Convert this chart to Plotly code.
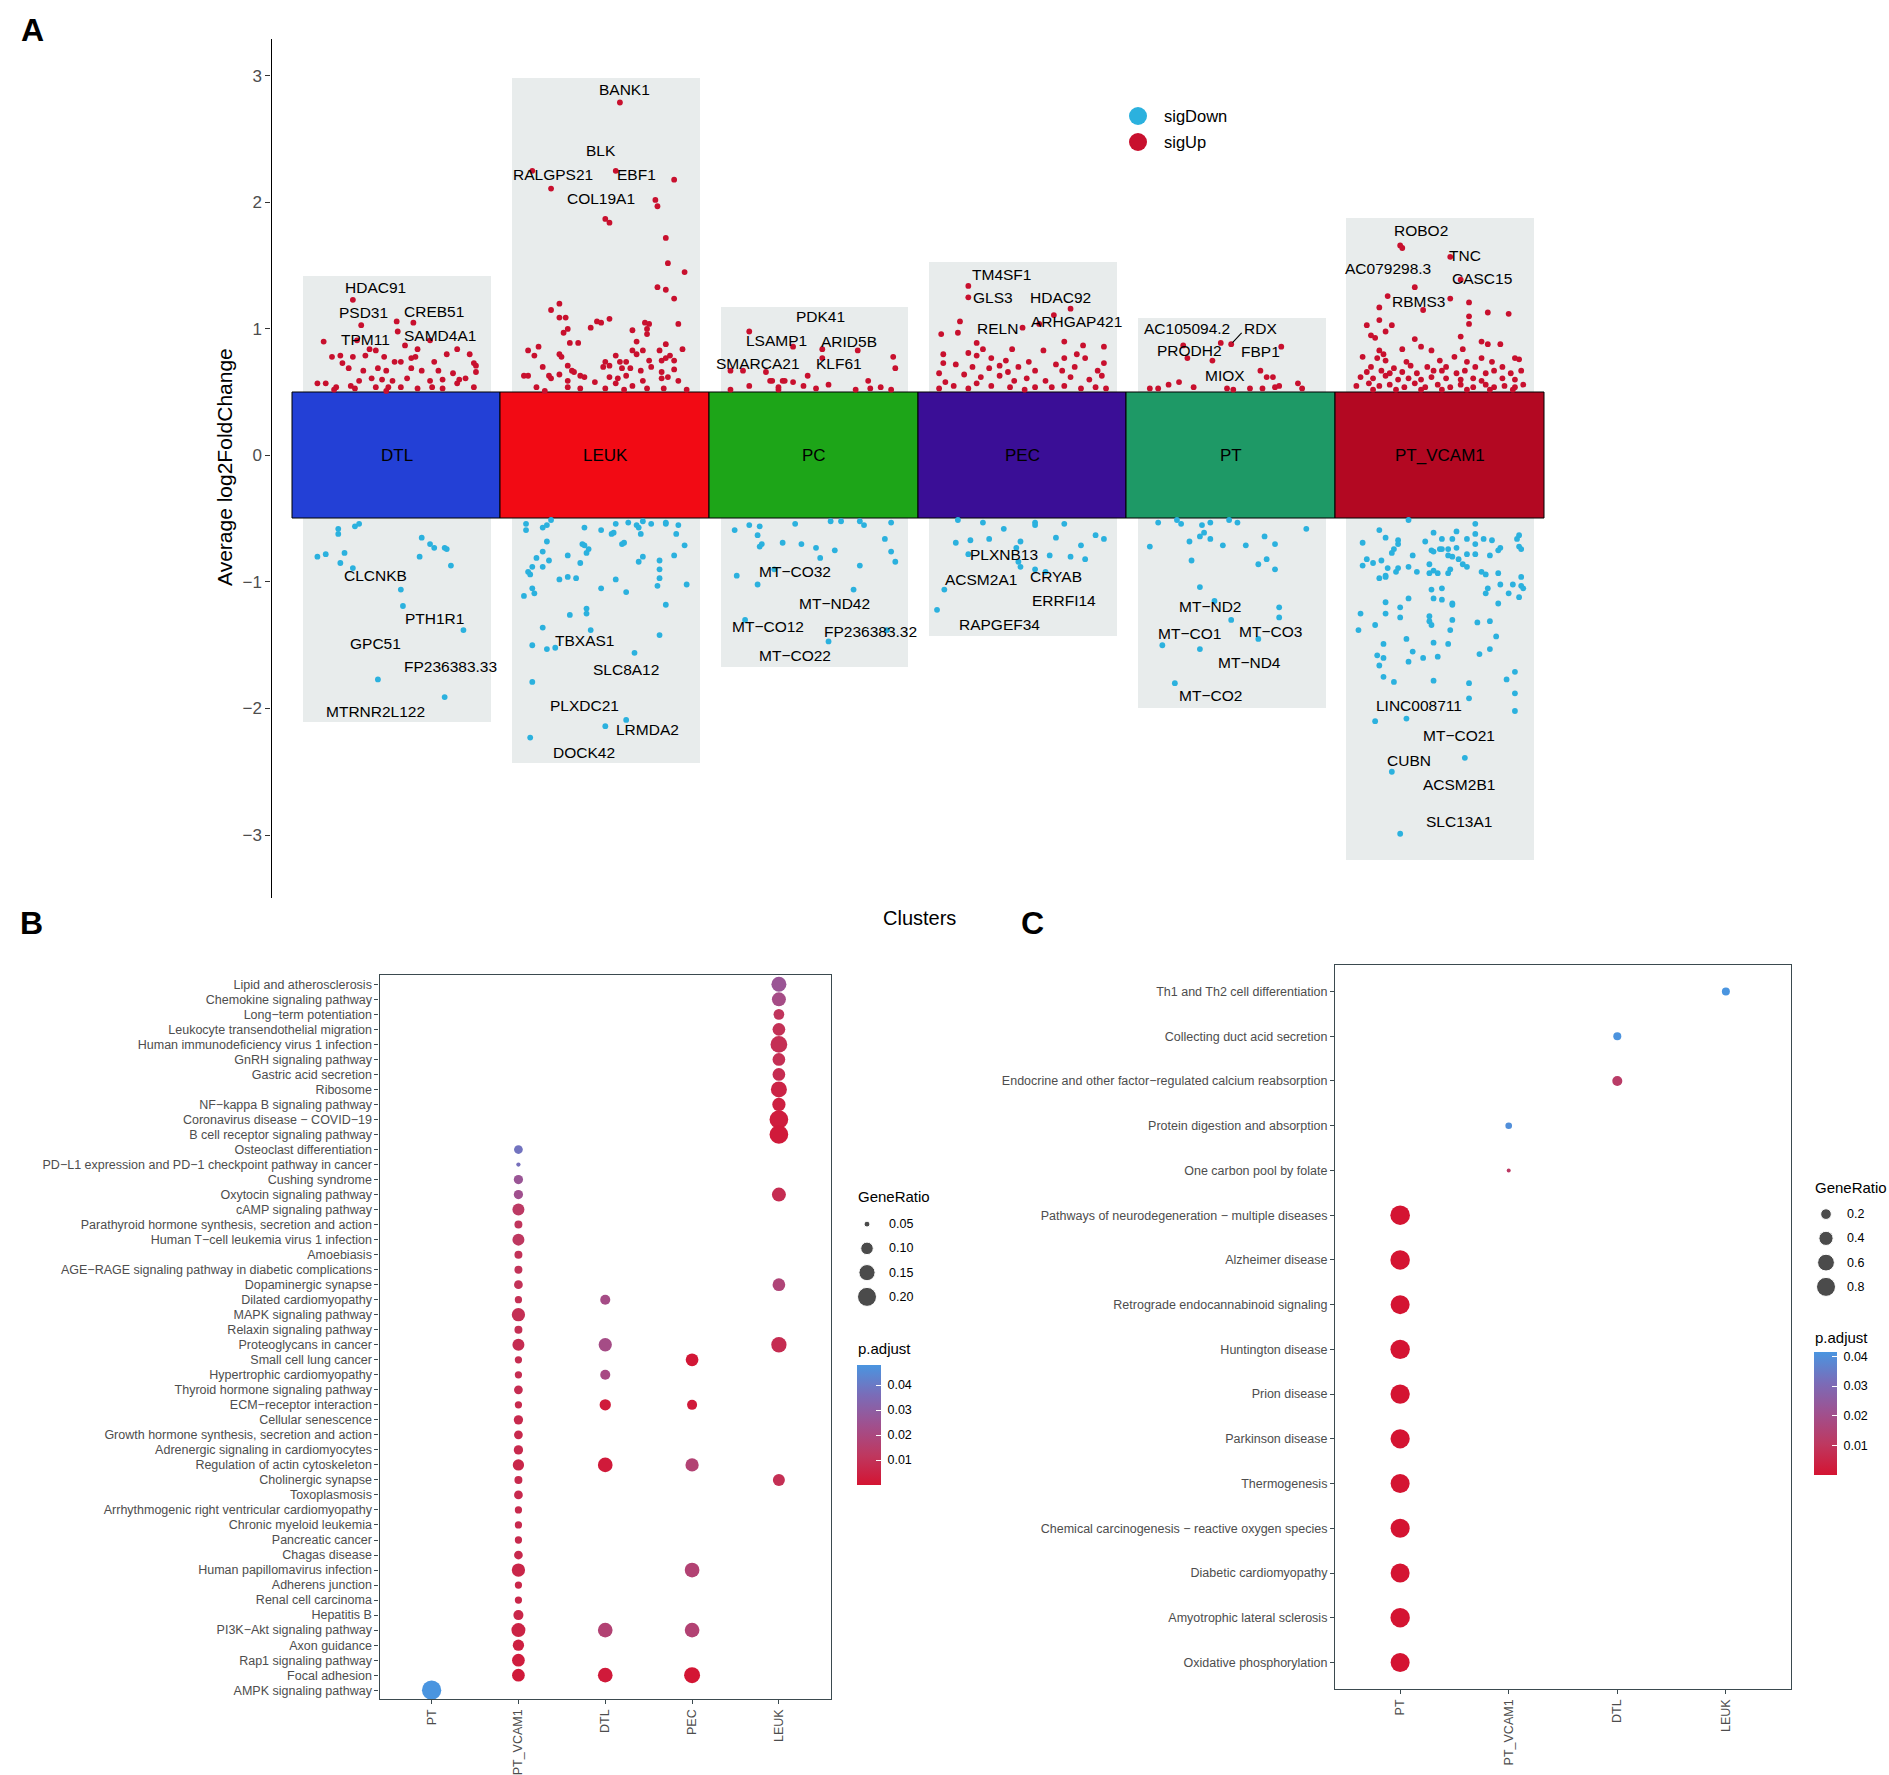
import numpy as np
import plotly.graph_objects as go

W, H = 1889, 1775
FONT = "Liberation Sans"
M = "\u2212"

def fx(px):
    return px / W

def fy(py):
    return 1 - py / H

# ---------------- Panel A data ----------------
clusters = ["DTL", "LEUK", "PC", "PEC", "PT", "PT_VCAM1"]
tile_colors = ["#2340D6", "#F20A14", "#1DA518", "#3A0E96", "#1E9966", "#B30822"]
bg_top = [1.42, 2.99, 1.18, 1.53, 1.09, 1.88]
bg_bottom = [-2.10, -2.43, -1.67, -1.42, -1.99, -3.19]

dtl_up = [(-0.21,1.23),(-0.17,1.03),(0.08,1.05),(-0.19,0.91),(0.005,0.98),(0.16,0.91),(-0.35,0.90),(0.00,1.06),
          (-0.13,0.84),(-0.10,0.83),(0.04,0.87),(0.10,0.84),(0.29,0.84),(0.35,0.80),(-0.31,0.78),(-0.27,0.79),
          (-0.21,0.78),(-0.15,0.79),(-0.06,0.78),(0.24,0.80),(0.07,0.77),(0.09,0.78),(-0.26,0.73),(-0.01,0.74),
          (0.02,0.74),(0.18,0.74),(0.37,0.73),(0.38,0.71),(-0.23,0.69),(-0.16,0.67),(-0.09,0.69),(-0.05,0.67),
          (0.07,0.69),(0.12,0.67),(0.20,0.67),(0.27,0.65),(0.38,0.66),(-0.18,0.59),(-0.12,0.61),(-0.07,0.60),
          (-0.02,0.59),(0.05,0.61),(0.16,0.59),(0.22,0.60),(0.30,0.60),(0.33,0.61),(-0.38,0.57),(-0.34,0.57),
          (-0.29,0.54),(-0.22,0.55),(-0.20,0.53),(-0.10,0.54),(-0.04,0.54),(0.02,0.54),(0.10,0.53),(0.17,0.54),
          (0.22,0.53),(0.29,0.57),(0.37,0.54),(-0.30,0.52),(-0.05,0.51)]
leuk_up = [(0.07,2.79),(0.05,2.25),(-0.35,2.25),(-0.26,2.11),(0.33,2.18),(0.00,1.87),(0.02,1.84),(0.24,2.02),
           (0.25,1.97),(0.29,1.72),(0.30,1.52),(0.38,1.45),(0.25,1.33),(0.29,1.31),(0.33,1.24),(0.35,1.04),
           (-0.26,1.15),(-0.22,1.20),(-0.22,1.09),(-0.19,1.09),(-0.20,0.97),(-0.18,1.00),(-0.17,0.89),(-0.13,0.89),
           (-0.07,1.01),(-0.04,1.06),(-0.02,1.05),(0.02,1.08),(0.13,0.99),(0.19,1.05),(0.21,1.04),(0.20,1.00),
           (0.20,0.96),(0.15,0.90),(0.29,0.88),(0.37,0.84),(-0.37,0.83),(-0.32,0.86),(-0.34,0.79),(-0.22,0.80),
           (-0.21,0.78),(-0.18,0.71),(-0.16,0.67),(-0.30,0.70),(-0.15,0.66),(0.05,0.79),(0.00,0.74),(0.02,0.71),
           (-0.01,0.70),(0.07,0.74),(0.10,0.74),(0.13,0.83),(0.15,0.80),(0.18,0.83),(0.26,0.83),(0.31,0.79),
           (0.33,0.75),(0.27,0.75),(0.29,0.77),(0.21,0.75),(0.12,0.69),(0.08,0.69),(0.17,0.67),(0.22,0.70),
           (0.27,0.66),(0.33,0.68),(-0.39,0.63),(-0.37,0.63),(-0.27,0.63),(-0.26,0.61),(-0.22,0.64),(-0.12,0.63),
           (-0.10,0.62),(-0.18,0.59),(-0.05,0.58),(0.02,0.62),(0.06,0.61),(0.10,0.63),(0.13,0.55),(0.05,0.57),
           (0.18,0.59),(0.27,0.61),(0.30,0.62),(0.35,0.59),(-0.33,0.54),(-0.29,0.51),(-0.18,0.54),(-0.12,0.53),
           (0.00,0.53),(0.09,0.52),(0.20,0.53),(0.28,0.53),(0.39,0.52)]
pc_up = [(-0.31,0.98),(0.04,0.84),(0.21,0.83),(-0.10,0.86),(0.04,0.77),(0.38,0.78),(0.39,0.69),(-0.40,0.67),
         (-0.34,0.67),(-0.23,0.66),(-0.03,0.63),(-0.14,0.59),(-0.10,0.58),(-0.05,0.55),(-0.21,0.59),(0.26,0.59),
         (0.07,0.56),(-0.31,0.55),(0.27,0.53),(0.32,0.54),(0.37,0.52),(0.20,0.52),(0.01,0.53),(-0.17,0.52),
         (-0.40,0.52),(-0.20,0.59),(-0.15,0.59),(-0.17,0.54)]
pec_up = [(-0.26,1.34),(-0.26,1.25),(0.23,1.16),(0.00,1.01),(0.15,1.11),(0.08,1.04),(-0.30,1.06),(-0.39,0.96),
          (-0.31,0.97),(-0.22,0.89),(-0.19,0.84),(-0.05,0.84),(0.10,0.83),(0.20,0.90),(0.29,0.87),(0.39,0.86),
          (-0.38,0.80),(-0.26,0.81),(-0.22,0.79),(-0.15,0.77),(-0.08,0.75),(0.03,0.74),(0.20,0.77),(0.26,0.80),
          (0.30,0.77),(0.39,0.73),(-0.38,0.73),(-0.32,0.72),(-0.24,0.70),(-0.16,0.69),(-0.11,0.71),(-0.02,0.70),
          (-0.07,0.66),(0.06,0.67),(0.16,0.72),(0.19,0.67),(0.25,0.70),(0.36,0.67),(-0.40,0.65),(-0.28,0.64),
          (-0.20,0.62),(-0.11,0.63),(-0.04,0.59),(0.02,0.61),(0.11,0.59),(0.23,0.62),(0.32,0.60),(0.38,0.63),
          (-0.37,0.58),(-0.33,0.55),(-0.22,0.57),(-0.15,0.55),(-0.06,0.54),(0.06,0.54),(0.14,0.54),(0.20,0.55),
          (0.28,0.53),(0.35,0.54),(0.40,0.53),(-0.40,0.53),(-0.26,0.53),(0.01,0.52)]
pt_up = [(0.00,0.88),(-0.23,0.87),(-0.21,0.77),(-0.09,0.75),(0.24,0.86),(-0.05,0.89),(0.14,0.67),(0.17,0.62),
         (0.20,0.62),(0.21,0.54),(0.23,0.55),(0.32,0.57),(0.34,0.53),(-0.30,0.56),(-0.25,0.58),(-0.39,0.53),
         (-0.35,0.53),(-0.18,0.54),(-0.02,0.53),(0.01,0.52),(0.09,0.53),(0.15,0.53)]
ptv_up = [(-0.19,1.66),(-0.18,1.64),(0.05,1.57),(-0.12,1.33),(0.10,1.39),(-0.25,1.26),(0.05,1.24),(-0.29,1.17),
          (-0.08,1.15),(0.14,1.21),(0.23,1.13),(0.33,1.12),(-0.29,1.07),(-0.35,1.03),(-0.23,1.03),(-0.26,0.98),
          (0.14,1.10),(0.14,1.04),(-0.33,0.95),(-0.31,0.93),(0.10,0.94),(-0.12,0.92),(0.20,0.90),(0.23,0.88),
          (0.29,0.88),(-0.29,0.83),(-0.27,0.80),(-0.18,0.84),(-0.09,0.86),(-0.04,0.83),(0.11,0.84),(-0.37,0.78),
          (-0.30,0.77),(-0.26,0.75),(-0.16,0.74),(-0.14,0.71),(0.00,0.75),(0.07,0.78),(0.13,0.74),(0.20,0.77),
          (0.25,0.74),(0.36,0.77),(0.38,0.76),(-0.33,0.70),(-0.22,0.69),(-0.06,0.70),(0.03,0.70),(0.17,0.70),
          (0.30,0.70),(-0.35,0.66),(-0.28,0.67),(-0.24,0.65),(-0.18,0.66),(-0.11,0.65),(-0.03,0.67),(0.01,0.67),
          (0.08,0.65),(0.12,0.67),(0.22,0.65),(0.26,0.67),(0.34,0.65),(0.39,0.67),(-0.38,0.62),(-0.32,0.61),
          (-0.26,0.63),(-0.20,0.60),(-0.15,0.61),(-0.09,0.60),(-0.04,0.62),(0.03,0.61),(0.10,0.60),(0.16,0.61),
          (0.20,0.59),(0.30,0.61),(0.36,0.60),(-0.40,0.55),(-0.34,0.57),(-0.29,0.55),(-0.24,0.56),(-0.17,0.54),
          (-0.12,0.57),(-0.07,0.54),(-0.01,0.56),(0.05,0.54),(0.10,0.56),(0.16,0.54),(0.22,0.56),(0.26,0.54),
          (0.31,0.55),(0.36,0.54),(0.40,0.56),(-0.32,0.52),(-0.21,0.52),(-0.09,0.52),(0.01,0.52),(0.13,0.52),
          (0.24,0.52),(0.35,0.52)]

dtl_down = [(-0.21,-0.89),(0.02,-1.06),(0.03,-1.19),(0.32,-1.38),(-0.09,-1.77),(0.23,-1.91),(-0.28,-0.58),
            (-0.28,-0.62),(-0.20,-0.56),(-0.18,-0.54),(-0.38,-0.80),(-0.34,-0.78),(-0.25,-0.77),(-0.27,-0.85),
            (0.12,-0.65),(0.16,-0.70),(0.18,-0.73),(0.23,-0.73),(0.24,-0.74),(0.11,-0.80),(0.26,-0.87)]
leuk_down = [(-0.30,-1.36),(-0.35,-1.50),(-0.28,-1.53),(-0.24,-1.52),(-0.07,-1.38),(0.26,-1.42),(0.14,-1.56),
             (-0.35,-1.79),(0.10,-2.09),(0.00,-2.14),(-0.36,-2.23),(-0.38,-0.54),(-0.38,-0.59),(-0.30,-0.57),
             (-0.28,-0.55),(-0.26,-0.51),(-0.10,-0.57),(-0.02,-0.59),(0.03,-0.62),(0.04,-0.61),(0.05,-0.54),
             (0.11,-0.53),(0.15,-0.55),(0.16,-0.57),(0.18,-0.52),(0.22,-0.54),(0.29,-0.54),(0.29,-0.53),
             (0.35,-0.55),(0.17,-0.62),(0.34,-0.62),(-0.28,-0.68),(-0.11,-0.70),(-0.10,-0.71),(-0.08,-0.74),
             (-0.09,-0.77),(0.09,-0.69),(0.08,-0.70),(0.38,-0.71),(-0.30,-0.76),(-0.33,-0.81),(-0.27,-0.83),
             (-0.18,-0.79),(-0.12,-0.85),(0.18,-0.80),(0.16,-0.84),(0.26,-0.83),(0.33,-0.79),(-0.37,-0.92),
             (-0.36,-0.94),(-0.35,-0.88),(-0.30,-0.88),(-0.22,-0.98),(-0.18,-0.96),(-0.14,-0.97),(0.05,-0.98),
             (0.26,-0.90),(0.26,-0.97),(0.25,-1.03),(0.39,-1.02),(-0.35,-1.05),(-0.34,-1.09),(-0.39,-1.11),
             (-0.02,-1.05),(0.10,-1.08),(-0.17,-1.26),(-0.09,-1.25),(-0.09,-1.21),(0.29,-1.18)]
pc_down = [(-0.19,-0.90),(-0.27,-1.02),(-0.37,-0.95),(0.19,-1.06),(-0.33,-1.30),(0.35,-1.38),(0.07,-1.47),
           (-0.38,-0.59),(-0.31,-0.55),(-0.26,-0.56),(-0.27,-0.63),(-0.25,-0.70),(-0.26,-0.72),(-0.15,-0.69),
           (-0.09,-0.54),(-0.06,-0.70),(0.01,-0.73),(0.03,-0.81),(0.10,-0.75),(0.08,-0.52),(0.13,-0.52),
           (0.22,-0.52),(0.24,-0.55),(0.22,-0.87),(0.34,-0.66),(0.37,-0.76),(0.39,-0.84),(0.37,-0.53)]
pec_down = [(-0.03,-0.73),(-0.02,-0.84),(-0.01,-0.88),(-0.375,-1.06),(-0.41,-1.22),(0.06,-0.90),(0.11,-0.92),
            (-0.31,-0.51),(-0.19,-0.53),(-0.09,-0.58),(0.06,-0.53),(0.06,-0.55),(0.20,-0.54),(-0.32,-0.69),
            (-0.25,-0.67),(-0.16,-0.66),(-0.01,-0.68),(0.16,-0.65),(0.35,-0.63),(0.39,-0.66),(0.13,-0.79),
            (0.23,-0.80),(0.28,-0.71),(0.30,-0.82),(-0.26,-0.78)]
pt_down = [(-0.15,-1.04),(-0.08,-1.15),(-0.33,-1.50),(-0.15,-1.53),(0.00,-1.30),(0.23,-1.20),(0.23,-1.28),
           (0.13,-1.45),(-0.27,-1.80),(-0.35,-0.53),(-0.26,-0.51),(-0.24,-0.54),(-0.14,-0.55),(-0.10,-0.53),
           (-0.01,-0.51),(0.03,-0.53),(0.36,-0.58),(-0.39,-0.72),(-0.20,-0.68),(-0.15,-0.64),(-0.13,-0.61),
           (-0.10,-0.66),(-0.04,-0.71),(0.07,-0.71),(0.16,-0.64),(0.21,-0.70),(-0.19,-0.83),(0.13,-0.86),
           (0.17,-0.82),(0.21,-0.90)]
ptv_down = [(-0.31,-2.10),(-0.16,-2.08),(0.14,-1.92),(0.12,-2.39),(-0.23,-2.50),(-0.19,-2.99),(-0.15,-0.51),
            (-0.29,-0.59),(-0.26,-0.65),(-0.37,-0.69),(-0.20,-0.67),(-0.20,-0.70),(-0.22,-0.74),(-0.23,-0.77),
            (-0.35,-0.82),(-0.37,-0.87),(-0.32,-0.85),(-0.28,-0.83),(-0.25,-0.89),(-0.21,-0.92),(-0.20,-0.89),
            (-0.29,-0.97),(-0.26,-0.96),(-0.26,-0.95),(-0.15,-0.88),(-0.11,-0.92),(-0.13,-0.79),(-0.07,-0.68),
            (-0.03,-0.61),(0.01,-0.66),(0.06,-0.66),(0.08,-0.60),(0.13,-0.66),(0.17,-0.54),(0.17,-0.62),
            (0.21,-0.66),(0.25,-0.67),(0.29,-0.73),(0.28,-0.75),(0.37,-0.66),(0.38,-0.63),(0.38,-0.72),
            (0.39,-0.74),(-0.04,-0.75),(-0.03,-0.76),(0.00,-0.74),(0.01,-0.74),(0.04,-0.74),(0.08,-0.73),
            (0.17,-0.70),(0.13,-0.78),(0.17,-0.78),(0.04,-0.79),(0.06,-0.80),(0.09,-0.82),(0.24,-0.79),
            (-0.05,-0.86),(-0.03,-0.91),(-0.01,-0.93),(0.04,-0.93),(0.05,-0.90),(0.11,-0.86),(0.13,-0.88),
            (0.20,-0.92),(0.22,-0.94),(0.28,-0.93),(0.39,-0.96),(-0.05,-0.93),(-0.04,-1.06),(0.01,-1.05),
            (0.23,-1.05),(0.22,-1.09),(0.29,-1.02),(0.35,-1.02),(0.33,-1.09),(0.39,-1.03),(0.40,-1.05),
            (0.38,-1.12),(0.28,-1.17),(-0.26,-1.16),(-0.15,-1.13),(-0.19,-1.20),(-0.03,-1.13),(0.01,-1.14),
            (0.06,-1.17),(0.06,-1.18),(-0.38,-1.25),(-0.26,-1.25),(-0.19,-1.28),(-0.05,-1.27),(-0.05,-1.31),
            (-0.04,-1.34),(0.06,-1.30),(0.05,-1.38),(0.18,-1.32),(0.24,-1.31),(0.27,-1.43),(-0.39,-1.38),
            (-0.31,-1.34),(-0.27,-1.49),(-0.16,-1.45),(-0.13,-1.55),(-0.15,-1.63),(-0.08,-1.60),(-0.03,-1.48),
            (0.04,-1.49),(-0.01,-1.59),(-0.30,-1.58),(-0.27,-1.60),(-0.29,-1.66),(-0.27,-1.75),(-0.22,-1.79),
            (-0.03,-1.78),(0.14,-1.80),(0.19,-1.57),(0.24,-1.53),(0.32,-1.77),(0.36,-1.71),(0.36,-1.88),
            (0.36,-2.02)]

up_points = [dtl_up, leuk_up, pc_up, pec_up, pt_up, ptv_up]
down_points = [dtl_down, leuk_down, pc_down, pec_down, pt_down, ptv_down]

# gene labels: (cluster index, x offset, y, text)
gene_labels = [
    (0,-0.10,1.33,"HDAC91"),(0,-0.16,1.13,"PSD31"),(0,0.18,1.14,"CREB51"),(0,-0.15,0.92,"TPM11"),
    (0,0.21,0.95,"SAMD4A1"),(0,-0.10,-0.95,"CLCNKB"),(0,0.18,-1.29,"PTH1R1"),(0,-0.10,-1.49,"GPC51"),
    (0,0.26,-1.67,"FP236383.33"),(0,-0.10,-2.02,"MTRNR2L122"),
    (1,0.09,2.89,"BANK1"),(1,-0.02,2.41,"BLK"),(1,-0.25,2.22,"RALGPS21"),(1,0.15,2.22,"EBF1"),
    (1,-0.02,2.03,"COL19A1"),(1,-0.10,-1.46,"TBXAS1"),(1,0.10,-1.69,"SLC8A12"),(1,-0.10,-1.98,"PLXDC21"),
    (1,0.20,-2.17,"LRMDA2"),(1,-0.10,-2.35,"DOCK42"),
    (2,0.03,1.10,"PDK41"),(2,-0.18,0.91,"LSAMP1"),(2,0.17,0.90,"ARID5B"),(2,-0.27,0.73,"SMARCA21"),
    (2,0.12,0.73,"KLF61"),(2,-0.09,-0.92,"MT"+M+"CO32"),(2,0.10,-1.17,"MT"+M+"ND42"),
    (2,-0.22,-1.35,"MT"+M+"CO12"),(2,0.27,-1.39,"FP236383.32"),(2,-0.09,-1.58,"MT"+M+"CO22"),
    (3,-0.10,1.43,"TM4SF1"),(3,-0.14,1.25,"GLS3"),(3,0.18,1.25,"HDAC92"),(3,-0.12,1.00,"RELN"),
    (3,0.26,1.06,"ARHGAP421"),(3,-0.09,-0.78,"PLXNB13"),(3,-0.20,-0.98,"ACSM2A1"),(3,0.16,-0.96,"CRYAB"),
    (3,0.20,-1.15,"ERRFI14"),(3,-0.11,-1.34,"RAPGEF34"),
    (4,-0.21,1.00,"AC105094.2"),(4,0.14,1.00,"RDX"),(4,-0.20,0.83,"PRODH2"),(4,0.14,0.82,"FBP1"),
    (4,-0.03,0.63,"MIOX"),(4,-0.10,-1.19,"MT"+M+"ND2"),(4,-0.20,-1.41,"MT"+M+"CO1"),
    (4,0.19,-1.39,"MT"+M+"CO3"),(4,0.09,-1.64,"MT"+M+"ND4"),(4,-0.10,-1.90,"MT"+M+"CO2"),
    (5,-0.09,1.78,"ROBO2"),(5,0.12,1.58,"TNC"),(5,-0.25,1.48,"AC079298.3"),(5,0.20,1.40,"CASC15"),
    (5,-0.10,1.22,"RBMS3"),(5,-0.10,-1.98,"LINC008711"),(5,0.09,-2.21,"MT"+M+"CO21"),
    (5,-0.15,-2.41,"CUBN"),(5,0.09,-2.60,"ACSM2B1"),(5,0.09,-2.89,"SLC13A1"),
]
# ggrepel connector for RDX: (cluster, point dx, point y, end dx, end y)
rdx_segment = (4, 0.00, 0.88, 0.05, 0.97)

y_ticks_a = [-3, -2, -1, 0, 1, 2, 3]
legend_a_names = ["sigDown", "sigUp"]
legend_a_colors = ["#2BB1DE", "#C8102E"]

# ---------------- Panel B data ----------------
b_clusters = ["PT", "PT_VCAM1", "DTL", "PEC", "LEUK"]
b_terms = [
    "Lipid and atherosclerosis", "Chemokine signaling pathway", "Long"+M+"term potentiation",
    "Leukocyte transendothelial migration", "Human immunodeficiency virus 1 infection",
    "GnRH signaling pathway", "Gastric acid secretion", "Ribosome", "NF"+M+"kappa B signaling pathway",
    "Coronavirus disease "+M+" COVID"+M+"19", "B cell receptor signaling pathway",
    "Osteoclast differentiation", "PD"+M+"L1 expression and PD"+M+"1 checkpoint pathway in cancer",
    "Cushing syndrome", "Oxytocin signaling pathway", "cAMP signaling pathway",
    "Parathyroid hormone synthesis, secretion and action", "Human T"+M+"cell leukemia virus 1 infection",
    "Amoebiasis", "AGE"+M+"RAGE signaling pathway in diabetic complications", "Dopaminergic synapse",
    "Dilated cardiomyopathy", "MAPK signaling pathway", "Relaxin signaling pathway",
    "Proteoglycans in cancer", "Small cell lung cancer", "Hypertrophic cardiomyopathy",
    "Thyroid hormone signaling pathway", "ECM"+M+"receptor interaction", "Cellular senescence",
    "Growth hormone synthesis, secretion and action", "Adrenergic signaling in cardiomyocytes",
    "Regulation of actin cytoskeleton", "Cholinergic synapse", "Toxoplasmosis",
    "Arrhythmogenic right ventricular cardiomyopathy", "Chronic myeloid leukemia", "Pancreatic cancer",
    "Chagas disease", "Human papillomavirus infection", "Adherens junction", "Renal cell carcinoma",
    "Hepatitis B", "PI3K"+M+"Akt signaling pathway", "Axon guidance", "Rap1 signaling pathway",
    "Focal adhesion", "AMPK signaling pathway",
]
# per cluster: row numbers (1-based, top to bottom), GeneRatio, p.adjust
b_pt_rows = [48]
b_pt_ratio = [0.206]
b_pt_padj = [0.048]
b_ptv_rows = list(range(12, 48))
b_ptv_ratio = [0.065, 0.046, 0.069, 0.069, 0.094, 0.060, 0.094, 0.060, 0.060, 0.065, 0.056, 0.109,
               0.060, 0.094, 0.056, 0.056, 0.065, 0.056, 0.069, 0.065, 0.069, 0.087, 0.060, 0.065,
               0.056, 0.056, 0.056, 0.065, 0.109, 0.056, 0.056, 0.075, 0.118, 0.087, 0.102, 0.102]
b_ptv_padj = [0.038, 0.037, 0.026, 0.024, 0.013, 0.011, 0.012, 0.010, 0.010, 0.010, 0.009, 0.009,
              0.009, 0.008, 0.008, 0.008, 0.008, 0.007, 0.007, 0.007, 0.007, 0.006, 0.007, 0.007,
              0.007, 0.007, 0.007, 0.007, 0.006, 0.006, 0.006, 0.006, 0.005, 0.004, 0.003, 0.002]
b_dtl_rows = [22, 25, 27, 29, 33, 44, 47]
b_dtl_ratio = [0.075, 0.109, 0.075, 0.087, 0.128, 0.128, 0.128]
b_dtl_padj = [0.022, 0.022, 0.021, 0.002, 0.002, 0.017, 0.002]
b_pec_rows = [26, 29, 33, 40, 44, 47]
b_pec_ratio = [0.102, 0.075, 0.109, 0.128, 0.128, 0.147]
b_pec_padj = [0.001, 0.002, 0.017, 0.017, 0.017, 0.0005]
b_leuk_rows = [1, 2, 3, 4, 5, 6, 7, 8, 9, 10, 11, 15, 21, 25, 34]
b_leuk_ratio = [0.132, 0.118, 0.081, 0.102, 0.159, 0.102, 0.102, 0.147, 0.109, 0.194, 0.194,
                0.118, 0.102, 0.137, 0.094]
b_leuk_padj = [0.026, 0.022, 0.011, 0.0095, 0.009, 0.009, 0.008, 0.005, 0.004, 0.003, 0.002,
               0.008, 0.018, 0.008, 0.009]
b_size_legend = [0.05, 0.10, 0.15, 0.20]
b_cbar_ticks = [0.01, 0.02, 0.03, 0.04]

# ---------------- Panel C data ----------------
c_clusters = ["PT", "PT_VCAM1", "DTL", "LEUK"]
c_terms = [
    "Th1 and Th2 cell differentiation", "Collecting duct acid secretion",
    "Endocrine and other factor"+M+"regulated calcium reabsorption", "Protein digestion and absorption",
    "One carbon pool by folate", "Pathways of neurodegeneration "+M+" multiple diseases",
    "Alzheimer disease", "Retrograde endocannabinoid signaling", "Huntington disease", "Prion disease",
    "Parkinson disease", "Thermogenesis", "Chemical carcinogenesis "+M+" reactive oxygen species",
    "Diabetic cardiomyopathy", "Amyotrophic lateral sclerosis", "Oxidative phosphorylation",
]
c_dot_cluster = ["LEUK", "DTL", "DTL", "PT_VCAM1", "PT_VCAM1", "PT", "PT", "PT", "PT", "PT", "PT",
                 "PT", "PT", "PT", "PT", "PT"]
c_ratio = [0.096, 0.096, 0.169, 0.061, 0.023, 0.86, 0.85, 0.80, 0.84, 0.83, 0.82, 0.80, 0.81, 0.80,
           0.84, 0.80]
c_padj = [0.0415, 0.041, 0.012, 0.040, 0.011, 1e-6, 1e-6, 2e-5, 1e-6, 1e-6, 1e-6, 3e-5, 2e-5,
          3e-5, 1e-6, 1e-5]
c_size_legend = [0.2, 0.4, 0.6, 0.8]
c_cbar_ticks = [0.01, 0.02, 0.03, 0.04]

# ---------------- styling helpers ----------------
cscale = [[0.0, "#D41432"], [0.25, "#BE3860"], [0.5, "#A0508E"], [0.75, "#7A6CB8"], [1.0, "#4A95E0"]]
TXT = "#4D4D4D"
BORDER = "#3B4A4F"
NB = "\u00a0"

def size_b(g):
    g = np.asarray(g, dtype=float)
    return 3 + 16.5 * np.sqrt(np.clip((g - 0.045) / 0.165, 0, 1))

def size_c(g):
    g = np.asarray(g, dtype=float)
    return 3 + 17 * np.sqrt(np.clip((g - 0.02) / 0.88, 0, 1))

fig = go.Figure()

# ---- Panel A ----
idx = list(range(len(clusters)))
fig.add_trace(go.Bar(x=idx, y=bg_top, width=0.9, marker=dict(color="#E8ECEC", line=dict(width=0)),
                     showlegend=False, hoverinfo="skip", xaxis="x", yaxis="y"))
fig.add_trace(go.Bar(x=idx, y=bg_bottom, width=0.9, marker=dict(color="#E8ECEC", line=dict(width=0)),
                     showlegend=False, hoverinfo="skip", xaxis="x", yaxis="y"))
fig.add_trace(go.Bar(x=idx, y=[1.0] * len(idx), base=[-0.5] * len(idx), width=1.0,
                     marker=dict(color=tile_colors, line=dict(color="black", width=1)),
                     showlegend=False, hoverinfo="skip", xaxis="x", yaxis="y"))

def pts(groups):
    xs, ys = [], []
    for i, g in enumerate(groups):
        for dx, yv in g:
            xs.append(i + dx)
            ys.append(yv)
    return xs, ys

ux, uy = pts(up_points)
dx_, dy_ = pts(down_points)
fig.add_trace(go.Scatter(x=dx_, y=dy_, mode="markers", marker=dict(color=legend_a_colors[0], size=5.8),
                         name="sigDown", showlegend=False, xaxis="x", yaxis="y"))
fig.add_trace(go.Scatter(x=ux, y=uy, mode="markers", marker=dict(color=legend_a_colors[1], size=5.8),
                         name="sigUp", showlegend=False, xaxis="x", yaxis="y"))

annotations = []
for i, c in enumerate(clusters):
    annotations.append(dict(x=i, y=0, xref="x", yref="y", text=c, showarrow=False,
                            font=dict(size=17, color="black", family=FONT)))
for ci, ox, oy, t in gene_labels:
    annotations.append(dict(x=ci + ox, y=oy, xref="x", yref="y", text=t, showarrow=False,
                            font=dict(size=15.5, color="black", family=FONT)))
ci, px0, py0, px1, py1 = rdx_segment
annotations.append(dict(x=ci + px1, y=py1, ax=ci + px0, ay=py0, xref="x", yref="y", axref="x", ayref="y",
                        text="", showarrow=True, arrowhead=0, arrowwidth=1.1, arrowcolor="black"))

# legend A (aux axis 4)
fig.add_trace(go.Scatter(x=[0.5, 0.5], y=[0, 1], mode="markers",
                         marker=dict(color=legend_a_colors, size=18), showlegend=False,
                         hoverinfo="skip", xaxis="x4", yaxis="y4"))
for i, n in enumerate(legend_a_names):
    annotations.append(dict(x=fx(1162), y=i, xref="paper", yref="y4", text=n, showarrow=False,
                            xanchor="left", font=dict(size=16.5, color="black", family=FONT)))

# ---- Panel B ----
b_groups = [("PT", b_pt_rows, b_pt_ratio, b_pt_padj), ("PT_VCAM1", b_ptv_rows, b_ptv_ratio, b_ptv_padj),
            ("DTL", b_dtl_rows, b_dtl_ratio, b_dtl_padj), ("PEC", b_pec_rows, b_pec_ratio, b_pec_padj),
            ("LEUK", b_leuk_rows, b_leuk_ratio, b_leuk_padj)]
bx, by, bs, bc = [], [], [], []
for cl, rows, rat, pad in b_groups:
    for r, g, p in zip(rows, rat, pad):
        bx.append(cl)
        by.append(b_terms[r - 1])
        bs.append(g)
        bc.append(p)
fig.add_trace(go.Scatter(x=bx, y=by, mode="markers",
                         marker=dict(size=size_b(bs), color=bc, coloraxis="coloraxis", line=dict(width=0),
                                     opacity=1),
                         showlegend=False, xaxis="x2", yaxis="y2"))
# B size legend (aux axis 5)
fig.add_trace(go.Scatter(x=[0.5] * len(b_size_legend), y=list(range(len(b_size_legend))), mode="markers",
                         marker=dict(size=size_b(b_size_legend), color="black"), showlegend=False,
                         hoverinfo="skip", xaxis="x5", yaxis="y5"))
for i, v in enumerate(b_size_legend):
    annotations.append(dict(x=fx(887), y=i, xref="paper", yref="y5", text=f"{v:.2f}", showarrow=False,
                            xanchor="left", font=dict(size=12.5, color="black", family=FONT)))

# ---- Panel C ----
fig.add_trace(go.Scatter(x=c_dot_cluster, y=c_terms, mode="markers",
                         marker=dict(size=size_c(c_ratio), color=c_padj, coloraxis="coloraxis2",
                                     line=dict(width=0), opacity=1),
                         showlegend=False, xaxis="x3", yaxis="y3"))
fig.add_trace(go.Scatter(x=[0.5] * len(c_size_legend), y=list(range(len(c_size_legend))), mode="markers",
                         marker=dict(size=size_c(c_size_legend), color="black"), showlegend=False,
                         hoverinfo="skip", xaxis="x6", yaxis="y6"))
for i, v in enumerate(c_size_legend):
    annotations.append(dict(x=fx(1845), y=i, xref="paper", yref="y6", text=f"{v:.1f}", showarrow=False,
                            xanchor="left", font=dict(size=12.5, color="black", family=FONT)))

# ---- titles / letters ----
def pann(x, y, text, size, bold=False, anchor="center", angle=0):
    annotations.append(dict(x=fx(x), y=fy(y), xref="paper", yref="paper",
                            text=f"<b>{text}</b>" if bold else text, showarrow=False, xanchor=anchor,
                            yanchor="middle", textangle=angle,
                            font=dict(size=size, color="black", family=FONT)))

pann(32, 30, "A", 32, bold=True)
pann(31, 923, "B", 32, bold=True)
pann(1032, 923, "C", 32, bold=True)
pann(224, 467, "Average log2FoldChange", 21, angle=-90)
pann(919, 918, "Clusters", 20)
pann(856, 1196, "GeneRatio", 15, anchor="left")
pann(856, 1348, "p.adjust", 15, anchor="left")
pann(1813, 1187, "GeneRatio", 15, anchor="left")
pann(1813, 1337, "p.adjust", 15, anchor="left")

cat_axis = dict(showline=True, mirror=True, linecolor=BORDER, linewidth=1.2, ticks="outside", ticklen=4,
                tickcolor=BORDER, tickwidth=1.1, showgrid=False, zeroline=False,
                tickfont=dict(size=12.5, color=TXT, family=FONT))
aux = dict(visible=False, showgrid=False, zeroline=False, fixedrange=True)

def cbar(x, y, length, thick, ticks):
    return dict(x=fx(x), xanchor="left", y=fy(y), yanchor="top", len=length, lenmode="pixels",
                thickness=thick, thicknessmode="pixels", xpad=0, ypad=0, outlinewidth=0,
                tickvals=ticks, ticktext=[NB + f"{v:.2f}" for v in ticks], ticks="inside", ticklen=5,
                tickcolor="white", tickwidth=1, tickfont=dict(size=12.5, color="black", family=FONT))

fig.update_layout(
    width=W, height=H, margin=dict(l=0, r=0, t=0, b=0), paper_bgcolor="white", plot_bgcolor="rgba(0,0,0,0)",
    font=dict(family=FONT, color="black"), barmode="overlay", bargap=0, showlegend=False,
    annotations=annotations,
    xaxis=dict(domain=[fx(271.5), fx(1565)], range=[-0.6, 5.6], visible=False, showgrid=False,
               zeroline=False, anchor="y"),
    yaxis=dict(domain=[fy(897.5), fy(38.5)], range=[-3.494, 3.296], tickvals=y_ticks_a, showline=True,
               linecolor="black", linewidth=1.3, ticks="outside", ticklen=5, tickcolor="#333333",
               tickwidth=1.1, showgrid=False, zeroline=False, anchor="x",
               tickfont=dict(size=17, color=TXT, family=FONT)),
    xaxis2=dict(cat_axis, domain=[fx(379.5), fx(831)], type="category", categoryorder="array",
                categoryarray=b_clusters, range=[-0.6, len(b_clusters) - 0.4], tickangle=-90, anchor="y2"),
    yaxis2=dict(cat_axis, domain=[fy(1699.2), fy(975.3)], type="category", categoryorder="array",
                categoryarray=b_terms, range=[len(b_terms) - 0.4, -0.6], anchor="x2"),
    xaxis3=dict(cat_axis, domain=[fx(1335), fx(1791)], type="category", categoryorder="array",
                categoryarray=c_clusters, range=[-0.6, len(c_clusters) - 0.4], tickangle=-90, anchor="y3"),
    yaxis3=dict(cat_axis, domain=[fy(1689.3), fy(964.7)], type="category", categoryorder="array",
                categoryarray=c_terms, range=[len(c_terms) - 0.4, -0.6], anchor="x3"),
    xaxis4=dict(aux, domain=[fx(1125), fx(1151)], range=[0, 1], anchor="y4"),
    yaxis4=dict(aux, domain=[fy(155), fy(103)], range=[1.5, -0.5], anchor="x4"),
    xaxis5=dict(aux, domain=[fx(857), fx(877)], range=[0, 1], anchor="y5"),
    yaxis5=dict(aux, domain=[fy(1309), fy(1212)], range=[3.5, -0.5], anchor="x5"),
    xaxis6=dict(aux, domain=[fx(1816), fx(1836)], range=[0, 1], anchor="y6"),
    yaxis6=dict(aux, domain=[fy(1299), fy(1202)], range=[3.5, -0.5], anchor="x6"),
    coloraxis=dict(colorscale=cscale, cmin=0, cmax=max(bc), colorbar=cbar(857, 1365, 120, 24, b_cbar_ticks)),
    coloraxis2=dict(colorscale=cscale, cmin=0, cmax=max(c_padj),
                    colorbar=cbar(1814, 1352, 123, 23, c_cbar_ticks)),
)

fig.write_html("out.html", config={"displayModeBar": False},
               post_script="document.body.style.margin='0';document.body.style.overflow='hidden';")
